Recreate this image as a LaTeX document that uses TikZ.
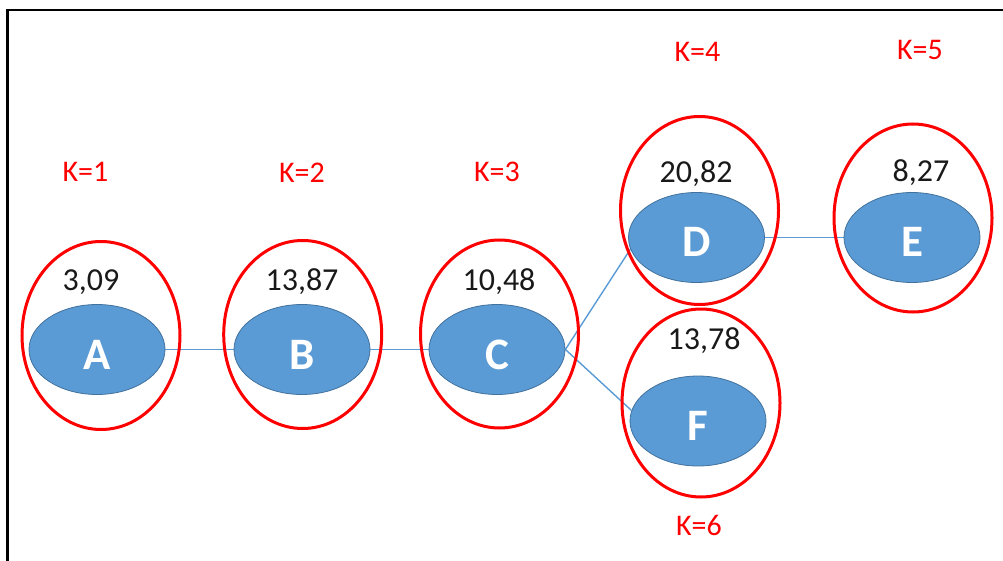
\documentclass[tikz,border=0pt]{standalone}
\usepackage{fontspec}
\setmainfont{Carlito}
\usetikzlibrary{shapes.geometric,backgrounds}
\definecolor{nodeblue}{HTML}{5B9BD5}
\definecolor{nodeedge}{HTML}{41719C}
\begin{document}
\begin{tikzpicture}[x=1pt,y=-1pt,
  bnode/.style={ellipse, fill=nodeblue, draw=nodeedge, line width=0.8pt, minimum width=136pt, minimum height=90pt, inner sep=0pt, text=white, font=\fontsize{45}{45}\selectfont\bfseries, text height=39pt, text depth=0pt},
  rring/.style={ellipse, draw=red, line width=3pt, minimum width=158pt, minimum height=188pt, inner sep=0pt},
  val/.style={font=\fontsize{32}{32}\selectfont, text=black!90, inner sep=0pt, text height=20pt, text depth=0pt},
  klab/.style={font=\fontsize{30}{30}\selectfont, text=red, inner sep=0pt, text height=19pt, text depth=0pt},
  conn/.style={draw=nodeblue, line width=1.4pt}]
\useasboundingbox (0,0) rectangle (1003,561);
\draw[line width=2.8pt] (7.5,561) -- (7.5,10) -- (1003,10);
% rings
\node[rring] (rA) at (101,335.5) {};
\node[rring] (rB) at (302.7,334.5) {};
\node[rring] (rC) at (499.5,334) {};
\node[rring] (rD) at (699.5,210.5) {};
\node[rring] (rE) at (913,218) {};
\node[rring] (rF) at (701,403) {};
% blue nodes
\node[bnode] (A) at (97,349.5) {A};
\node[bnode] (B) at (302,349.5) {B};
\node[bnode] (C) at (497,349.5) {C};
\node[bnode] (D) at (696.5,237.5) {D};
\node[bnode] (E) at (912,237.5) {E};
\node[bnode] (F) at (698,421) {F};
% values
\node[val] (nA) at (91,280) {3,09};
\node[val] (nB) at (302,280) {13,87};
\node[val] (nC) at (499,280) {10,48};
\node[val] (nD) at (696,172.5) {20,82};
\node[val] (nE) at (921,172) {8,27};
\node[val] (nF) at (704,339) {13,78};
% K labels
\node[klab] (kA) at (85.5,172) {K=1};
\node[klab] (kB) at (302,173) {K=2};
\node[klab] (kC) at (497,172) {K=3};
\node[klab] (kD) at (697.5,52) {K=4};
\node[klab] (kE) at (920,50) {K=5};
\node[klab] (kF) at (699,526) {K=6};
\begin{pgfonlayer}{background}
\draw[conn] (A.east) -- (B.west);
\draw[conn] (B.east) -- (C.west);
\draw[conn] (C.east) -- (D.190);
\draw[conn] (C.east) -- (F.171);
\draw[conn] (D.east) -- (E.west);
\end{pgfonlayer}
\end{tikzpicture}
\end{document}
